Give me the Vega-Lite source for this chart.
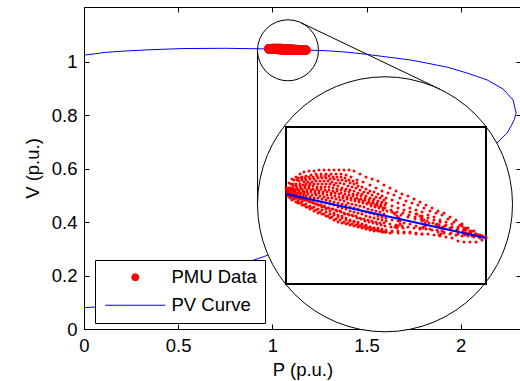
{
"$schema":"https://vega.github.io/schema/vega-lite/v6.json",
"width":437,"height":322,
"autosize":"none",
"padding":{"left":84,"top":7,"right":0,"bottom":52},
"background":"white",
"config":{
"font":"Liberation Sans",
"view":{"stroke":null},
"axis":{"domainColor":"black","domainWidth":1,"tickColor":"black","tickWidth":1,"tickSize":-5,"labelColor":"black","titleColor":"black","labelFont":"Liberation Sans","titleFont":"Liberation Sans","labelFontSize":18.5,"titleFontSize":18.5,"titleFontWeight":"normal","grid":false,"labelPadding":12,"labelFlush":false},
"axisX":{"titlePadding":6},
"axisY":{"titlePadding":9}
},
"datasets":{
"pv":[
{"i":0,"p":0,"v":1.025},{"i":1,"p":0.06,"v":1.03},{"i":2,"p":0.11,"v":1.035},{"i":3,"p":0.21,"v":1.04},{"i":4,"p":0.35,"v":1.045},{"i":5,"p":0.525,"v":1.0495},{"i":6,"p":0.75,"v":1.0505},{"i":7,"p":0.98,"v":1.048},{"i":8,"p":1.18,"v":1.0436},{"i":9,"p":1.269,"v":1.042},{"i":10,"p":1.38,"v":1.037},{"i":11,"p":1.487,"v":1.029},{"i":12,"p":1.609,"v":1.018},{"i":13,"p":1.731,"v":1.007},{"i":14,"p":1.821,"v":0.995},{"i":15,"p":1.927,"v":0.98},{"i":16,"p":2.033,"v":0.958},{"i":17,"p":2.14,"v":0.932},{"i":18,"p":2.225,"v":0.898},{"i":19,"p":2.278,"v":0.857},{"i":20,"p":2.294,"v":0.808},{"i":21,"p":2.285,"v":0.785},{"i":22,"p":2.27,"v":0.763},{"i":23,"p":2.246,"v":0.733},{"i":24,"p":2.198,"v":0.7},{"i":25,"p":2.1,"v":0.64},{"i":26,"p":1.9,"v":0.55},{"i":27,"p":1.6,"v":0.45},{"i":28,"p":1.3,"v":0.36},{"i":29,"p":1.0,"v":0.285},{"i":30,"p":0.96,"v":0.272},{"i":31,"p":0.7,"v":0.21},{"i":32,"p":0.4,"v":0.145},{"i":33,"p":0.2,"v":0.105},{"i":34,"p":0.06,"v":0.082},{"i":35,"p":0,"v":0.08}
],
"pmu":[
{"p":0.98,"v":1.0486},{"p":0.983,"v":1.0491},{"p":0.986,"v":1.0495},{"p":0.99,"v":1.0497},{"p":0.994,"v":1.05},{"p":0.998,"v":1.0502},{"p":1.003,"v":1.0503},{"p":1.008,"v":1.0503},{"p":1.013,"v":1.0504},{"p":1.018,"v":1.0504},{"p":1.023,"v":1.0504},{"p":1.028,"v":1.0504},{"p":1.033,"v":1.0504},{"p":1.038,"v":1.0504},{"p":1.043,"v":1.0504},{"p":1.048,"v":1.0503},{"p":1.054,"v":1.05},{"p":1.06,"v":1.0497},{"p":1.066,"v":1.0495},{"p":1.072,"v":1.0493},{"p":1.078,"v":1.0489},{"p":1.084,"v":1.0486},{"p":1.09,"v":1.0483},{"p":1.096,"v":1.048},{"p":1.102,"v":1.0478},{"p":1.108,"v":1.0475},{"p":1.114,"v":1.0472},{"p":1.12,"v":1.0469},{"p":1.126,"v":1.0466},{"p":1.132,"v":1.0463},{"p":1.138,"v":1.0461},{"p":1.144,"v":1.0457},{"p":1.15,"v":1.0454},{"p":1.156,"v":1.045},{"p":1.162,"v":1.0446},{"p":1.168,"v":1.0443},{"p":1.174,"v":1.0439},{"p":1.18,"v":1.0437},
{"p":0.982,"v":1.0486},{"p":0.985,"v":1.049},{"p":0.988,"v":1.0494},{"p":0.992,"v":1.0496},{"p":0.996,"v":1.0497},{"p":1,"v":1.0498},{"p":1.005,"v":1.0499},{"p":1.01,"v":1.05},{"p":1.015,"v":1.05},{"p":1.02,"v":1.05},{"p":1.025,"v":1.05},{"p":1.03,"v":1.05},{"p":1.035,"v":1.05},{"p":1.04,"v":1.0499},{"p":1.045,"v":1.0497},{"p":1.051,"v":1.0494},{"p":1.057,"v":1.0492},{"p":1.064,"v":1.0489},{"p":1.07,"v":1.0486},{"p":1.076,"v":1.0483},{"p":1.082,"v":1.0481},{"p":1.088,"v":1.0479},{"p":1.094,"v":1.0476},{"p":1.1,"v":1.0473},{"p":1.106,"v":1.0471},{"p":1.112,"v":1.0469},{"p":1.118,"v":1.0466},{"p":1.124,"v":1.0463},{"p":1.13,"v":1.0461},{"p":1.136,"v":1.0459},{"p":1.142,"v":1.0455},{"p":1.148,"v":1.0452},{"p":1.154,"v":1.0449},{"p":1.16,"v":1.0446},{"p":1.166,"v":1.0443},{"p":1.172,"v":1.0439},{"p":1.178,"v":1.0437},
{"p":0.981,"v":1.0484},{"p":0.984,"v":1.0486},{"p":0.987,"v":1.0488},{"p":0.99,"v":1.049},{"p":0.993,"v":1.0493},{"p":0.996,"v":1.0494},{"p":1,"v":1.0494},{"p":1.004,"v":1.0495},{"p":1.008,"v":1.0495},{"p":1.012,"v":1.0496},{"p":1.016,"v":1.0496},{"p":1.02,"v":1.0496},{"p":1.024,"v":1.0495},{"p":1.028,"v":1.0495},{"p":1.032,"v":1.0494},{"p":1.036,"v":1.0494},{"p":1.04,"v":1.0493},{"p":1.044,"v":1.0491},{"p":1.048,"v":1.049},{"p":1.052,"v":1.0488},{"p":1.056,"v":1.0487},{"p":1.06,"v":1.0485},{"p":1.064,"v":1.0483},{"p":1.068,"v":1.0482},{"p":1.072,"v":1.048},{"p":1.076,"v":1.0478},{"p":1.08,"v":1.0476},{"p":1.086,"v":1.0474},{"p":1.092,"v":1.0471},{"p":1.098,"v":1.0469},{"p":1.104,"v":1.0466},{"p":1.11,"v":1.0464},{"p":1.116,"v":1.0462},{"p":1.122,"v":1.0459},{"p":1.128,"v":1.0457},{"p":1.134,"v":1.0454},{"p":1.14,"v":1.0452},{"p":1.146,"v":1.045},{"p":1.152,"v":1.0447},{"p":1.158,"v":1.0445},{"p":1.164,"v":1.0443},{"p":1.17,"v":1.044},{"p":1.176,"v":1.0438},
{"p":0.982,"v":1.0483},{"p":0.985,"v":1.0484},{"p":0.988,"v":1.0485},{"p":0.991,"v":1.0486},{"p":0.994,"v":1.0488},{"p":0.997,"v":1.0489},{"p":1,"v":1.049},{"p":1.004,"v":1.049},{"p":1.008,"v":1.049},{"p":1.012,"v":1.049},{"p":1.016,"v":1.049},{"p":1.02,"v":1.049},{"p":1.024,"v":1.049},{"p":1.028,"v":1.0489},{"p":1.032,"v":1.0488},{"p":1.036,"v":1.0486},{"p":1.04,"v":1.0485},{"p":1.044,"v":1.0484},{"p":1.048,"v":1.0483},{"p":1.052,"v":1.0481},{"p":1.056,"v":1.048},{"p":1.06,"v":1.0478},{"p":1.064,"v":1.0476},{"p":1.068,"v":1.0475},{"p":1.072,"v":1.0473},{"p":1.076,"v":1.0472},{"p":1.08,"v":1.0471},{"p":1.086,"v":1.0468},{"p":1.092,"v":1.0466},{"p":1.098,"v":1.0464},{"p":1.104,"v":1.0462},{"p":1.11,"v":1.046},{"p":1.116,"v":1.0458},{"p":1.122,"v":1.0456},{"p":1.128,"v":1.0454},{"p":1.134,"v":1.0452},{"p":1.14,"v":1.0449},{"p":1.146,"v":1.0447},{"p":1.152,"v":1.0445},{"p":1.158,"v":1.0444},{"p":1.164,"v":1.0442},{"p":1.17,"v":1.044},{"p":1.176,"v":1.0438},
{"p":0.981,"v":1.0481},{"p":0.984,"v":1.0482},{"p":0.987,"v":1.0483},{"p":0.99,"v":1.0484},{"p":0.993,"v":1.0484},{"p":0.996,"v":1.0485},{"p":0.999,"v":1.0486},{"p":1.003,"v":1.0486},{"p":1.007,"v":1.0485},{"p":1.011,"v":1.0485},{"p":1.015,"v":1.0485},{"p":1.019,"v":1.0484},{"p":1.023,"v":1.0484},{"p":1.027,"v":1.0483},{"p":1.031,"v":1.0483},{"p":1.035,"v":1.0481},{"p":1.039,"v":1.048},{"p":1.043,"v":1.0479},{"p":1.047,"v":1.0478},{"p":1.051,"v":1.0476},{"p":1.055,"v":1.0475},{"p":1.059,"v":1.0474},{"p":1.063,"v":1.0472},{"p":1.067,"v":1.0471},{"p":1.071,"v":1.0469},{"p":1.075,"v":1.0468},{"p":1.079,"v":1.0466},{"p":1.085,"v":1.0464},{"p":1.091,"v":1.0462},{"p":1.097,"v":1.0461},{"p":1.103,"v":1.0459},{"p":1.109,"v":1.0457},{"p":1.115,"v":1.0455},{"p":1.121,"v":1.0453},{"p":1.127,"v":1.0451},{"p":1.133,"v":1.0449},{"p":1.139,"v":1.0448},{"p":1.145,"v":1.0446},{"p":1.151,"v":1.0444},{"p":1.157,"v":1.0443},{"p":1.163,"v":1.0441},{"p":1.169,"v":1.044},{"p":1.175,"v":1.0438},
{"p":0.983,"v":1.048},{"p":0.986,"v":1.0481},{"p":0.989,"v":1.0481},{"p":0.992,"v":1.0481},{"p":0.995,"v":1.0481},{"p":0.998,"v":1.0482},{"p":1.001,"v":1.0482},{"p":1.005,"v":1.0482},{"p":1.009,"v":1.0481},{"p":1.013,"v":1.0481},{"p":1.017,"v":1.048},{"p":1.021,"v":1.0479},{"p":1.025,"v":1.0479},{"p":1.029,"v":1.0478},{"p":1.033,"v":1.0477},{"p":1.037,"v":1.0476},{"p":1.041,"v":1.0475},{"p":1.045,"v":1.0474},{"p":1.049,"v":1.0473},{"p":1.053,"v":1.0472},{"p":1.057,"v":1.0471},{"p":1.061,"v":1.047},{"p":1.065,"v":1.0468},{"p":1.069,"v":1.0467},{"p":1.073,"v":1.0466},{"p":1.077,"v":1.0464},{"p":1.081,"v":1.0463},{"p":1.088,"v":1.0461},{"p":1.095,"v":1.0459},{"p":1.102,"v":1.0457},{"p":1.109,"v":1.0455},{"p":1.116,"v":1.0453},{"p":1.123,"v":1.0451},{"p":1.13,"v":1.0449},{"p":1.137,"v":1.0447},{"p":1.144,"v":1.0446},{"p":1.151,"v":1.0444},{"p":1.158,"v":1.0442},{"p":1.165,"v":1.0441},{"p":1.172,"v":1.0439},
{"p":0.982,"v":1.0479},{"p":0.985,"v":1.0479},{"p":0.988,"v":1.0479},{"p":0.991,"v":1.0478},{"p":0.994,"v":1.0478},{"p":0.997,"v":1.0478},{"p":1,"v":1.0478},{"p":1.004,"v":1.0477},{"p":1.008,"v":1.0476},{"p":1.012,"v":1.0476},{"p":1.016,"v":1.0475},{"p":1.02,"v":1.0474},{"p":1.024,"v":1.0473},{"p":1.028,"v":1.0472},{"p":1.032,"v":1.0471},{"p":1.036,"v":1.047},{"p":1.04,"v":1.0469},{"p":1.044,"v":1.0467},{"p":1.048,"v":1.0466},{"p":1.052,"v":1.0465},{"p":1.056,"v":1.0463},{"p":1.06,"v":1.0462},{"p":1.064,"v":1.0461},{"p":1.068,"v":1.046},{"p":1.072,"v":1.0458},{"p":1.076,"v":1.0457},{"p":1.08,"v":1.0456},{"p":1.086,"v":1.0454},{"p":1.092,"v":1.0453},{"p":1.098,"v":1.0451},{"p":1.104,"v":1.045},{"p":1.11,"v":1.0448},{"p":1.117,"v":1.0447},{"p":1.124,"v":1.0445},{"p":1.131,"v":1.0444},{"p":1.138,"v":1.0442},{"p":1.145,"v":1.0441},{"p":1.152,"v":1.044},{"p":1.159,"v":1.0439},{"p":1.166,"v":1.0438},{"p":1.173,"v":1.0437},
{"p":0.982,"v":1.0478},{"p":0.986,"v":1.0477},{"p":0.99,"v":1.0476},{"p":0.994,"v":1.0475},{"p":0.998,"v":1.0474},{"p":1.002,"v":1.0473},{"p":1.006,"v":1.0472},{"p":1.01,"v":1.047},{"p":1.014,"v":1.0469},{"p":1.018,"v":1.0468},{"p":1.022,"v":1.0466},{"p":1.026,"v":1.0465},{"p":1.03,"v":1.0464},{"p":1.034,"v":1.0463},{"p":1.038,"v":1.0461},{"p":1.042,"v":1.046},{"p":1.046,"v":1.0459},{"p":1.05,"v":1.0458},{"p":1.054,"v":1.0456},{"p":1.058,"v":1.0455},{"p":1.062,"v":1.0454},{"p":1.066,"v":1.0453},{"p":1.07,"v":1.0452},{"p":1.074,"v":1.0451},{"p":1.078,"v":1.0451},{"p":1.084,"v":1.045},{"p":1.09,"v":1.0449},{"p":1.096,"v":1.0448},{"p":1.102,"v":1.0447},{"p":1.108,"v":1.0446},{"p":1.114,"v":1.0446},{"p":1.12,"v":1.0445},{"p":1.126,"v":1.0444},{"p":1.132,"v":1.0442},{"p":1.138,"v":1.0441},{"p":1.144,"v":1.044},{"p":1.15,"v":1.0439},{"p":1.156,"v":1.0438},{"p":1.162,"v":1.0438},{"p":1.168,"v":1.0437},{"p":1.174,"v":1.0436},
{"p":0.984,"v":1.0478},{"p":0.988,"v":1.0477},{"p":0.992,"v":1.0476},{"p":0.996,"v":1.0475},{"p":1,"v":1.0474},{"p":1.004,"v":1.0472},{"p":1.008,"v":1.0471},{"p":1.012,"v":1.0469},{"p":1.016,"v":1.0467},{"p":1.02,"v":1.0465},{"p":1.024,"v":1.0463},{"p":1.028,"v":1.0461},{"p":1.032,"v":1.0459},{"p":1.036,"v":1.0458},{"p":1.04,"v":1.0456},{"p":1.044,"v":1.0454},{"p":1.048,"v":1.0453},{"p":1.052,"v":1.0452},{"p":1.056,"v":1.045},{"p":1.06,"v":1.0449},{"p":1.064,"v":1.0447},{"p":1.068,"v":1.0446},{"p":1.072,"v":1.0444},{"p":1.076,"v":1.0443},{"p":1.08,"v":1.0442},{"p":1.086,"v":1.0442},{"p":1.092,"v":1.0441},{"p":1.098,"v":1.0441},{"p":1.104,"v":1.0441},{"p":1.11,"v":1.044},{"p":1.116,"v":1.044},{"p":1.122,"v":1.044},{"p":1.128,"v":1.0439},{"p":1.134,"v":1.0438},{"p":1.14,"v":1.0437},{"p":1.146,"v":1.0436},{"p":1.152,"v":1.0433},{"p":1.158,"v":1.0432},{"p":1.164,"v":1.0432},{"p":1.17,"v":1.0432},{"p":1.176,"v":1.0434},{"p":1.18,"v":1.0436},
{"p":0.983,"v":1.0478},{"p":0.987,"v":1.0477},{"p":0.991,"v":1.0476},{"p":0.995,"v":1.0475},{"p":0.999,"v":1.0474},{"p":1.003,"v":1.0473},{"p":1.007,"v":1.0471},{"p":1.011,"v":1.047},{"p":1.015,"v":1.0469},{"p":1.019,"v":1.0467},{"p":1.023,"v":1.0466},{"p":1.027,"v":1.0465},{"p":1.031,"v":1.0463},{"p":1.035,"v":1.0462},{"p":1.039,"v":1.046},{"p":1.043,"v":1.0459},{"p":1.047,"v":1.0458},{"p":1.051,"v":1.0456},{"p":1.055,"v":1.0455},{"p":1.059,"v":1.0453},{"p":1.063,"v":1.0452},{"p":1.067,"v":1.0451},{"p":1.071,"v":1.045},{"p":1.075,"v":1.0449},{"p":1.079,"v":1.0448},{"p":1.085,"v":1.0447},{"p":1.091,"v":1.0446},{"p":1.097,"v":1.0446},
{"p":1.086,"v":1.0462},{"p":1.089,"v":1.046},{"p":1.091,"v":1.0458},{"p":1.093,"v":1.0456},{"p":1.094,"v":1.0453},{"p":1.094,"v":1.045},{"p":1.092,"v":1.0448},{"p":1.089,"v":1.0447},
{"p":1.111,"v":1.046},{"p":1.114,"v":1.0458},{"p":1.116,"v":1.0456},{"p":1.118,"v":1.0454},{"p":1.119,"v":1.0451},{"p":1.119,"v":1.0448},{"p":1.117,"v":1.0446},{"p":1.114,"v":1.0445},
{"p":1.131,"v":1.045},{"p":1.133,"v":1.0448},{"p":1.135,"v":1.0446},{"p":1.136,"v":1.0443},{"p":1.135,"v":1.044},{"p":1.133,"v":1.0439},
{"p":1.156,"v":1.0448},{"p":1.158,"v":1.0446},{"p":1.16,"v":1.0444},{"p":1.16,"v":1.0441},{"p":1.158,"v":1.044},
{"p":0.982,"v":1.0484},{"p":0.986,"v":1.0486},{"p":0.99,"v":1.0488},{"p":0.994,"v":1.049},{"p":0.998,"v":1.0492},{"p":1.002,"v":1.0492},{"p":1.006,"v":1.0492},{"p":1.01,"v":1.0493},{"p":1.014,"v":1.0493},{"p":1.018,"v":1.0493},{"p":1.022,"v":1.0493},{"p":1.026,"v":1.0492},{"p":1.03,"v":1.0491},{"p":1.034,"v":1.0491},{"p":1.038,"v":1.049},{"p":1.042,"v":1.0488},{"p":1.046,"v":1.0487},{"p":1.05,"v":1.0486},{"p":1.054,"v":1.0484},{"p":1.058,"v":1.0482},{"p":1.062,"v":1.0481},{"p":1.066,"v":1.0479},{"p":1.07,"v":1.0477},{"p":1.074,"v":1.0476},{"p":1.078,"v":1.0474},
{"p":0.985,"v":1.0481},{"p":0.989,"v":1.0482},{"p":0.993,"v":1.0483},{"p":0.997,"v":1.0483},{"p":1.001,"v":1.0484},{"p":1.005,"v":1.0484},{"p":1.009,"v":1.0483},{"p":1.013,"v":1.0483},{"p":1.017,"v":1.0482},{"p":1.021,"v":1.0482},{"p":1.025,"v":1.0481},{"p":1.029,"v":1.0481},{"p":1.033,"v":1.048},{"p":1.037,"v":1.0478},{"p":1.041,"v":1.0477},{"p":1.045,"v":1.0476},{"p":1.049,"v":1.0475},{"p":1.053,"v":1.0474},{"p":1.057,"v":1.0473},{"p":1.061,"v":1.0471},{"p":1.065,"v":1.047},{"p":1.069,"v":1.0469},{"p":1.073,"v":1.0467},{"p":1.077,"v":1.0466},
{"p":0.984,"v":1.0479},{"p":0.988,"v":1.0478},{"p":0.992,"v":1.0477},{"p":0.996,"v":1.0476},{"p":1,"v":1.0476},{"p":1.004,"v":1.0475},{"p":1.008,"v":1.0474},{"p":1.012,"v":1.0473},{"p":1.016,"v":1.0472},{"p":1.02,"v":1.0471},{"p":1.024,"v":1.047},{"p":1.028,"v":1.0469},{"p":1.032,"v":1.0467},{"p":1.036,"v":1.0466},{"p":1.04,"v":1.0465},{"p":1.044,"v":1.0463},{"p":1.048,"v":1.0462},{"p":1.052,"v":1.0461},{"p":1.056,"v":1.046},{"p":1.06,"v":1.0458},{"p":1.064,"v":1.0457},{"p":1.068,"v":1.0456},{"p":1.072,"v":1.0455},{"p":1.076,"v":1.0454},{"p":1.08,"v":1.0453},
{"p":0.983,"v":1.0486},{"p":0.987,"v":1.049},{"p":0.991,"v":1.0494},{"p":0.995,"v":1.0496},{"p":0.999,"v":1.0496},{"p":1.003,"v":1.0497},{"p":1.007,"v":1.0497},{"p":1.011,"v":1.0498},{"p":1.015,"v":1.0498},{"p":1.019,"v":1.0498},{"p":1.023,"v":1.0498},{"p":1.027,"v":1.0497},{"p":1.031,"v":1.0497},{"p":1.035,"v":1.0497},{"p":1.039,"v":1.0496},{"p":1.043,"v":1.0494},{"p":1.047,"v":1.0493},{"p":1.051,"v":1.0491},
{"p":0.983,"v":1.0482},{"p":0.987,"v":1.0484},{"p":0.991,"v":1.0485},{"p":0.995,"v":1.0486},{"p":0.999,"v":1.0488},{"p":1.003,"v":1.0488},{"p":1.007,"v":1.0488},{"p":1.011,"v":1.0487},{"p":1.015,"v":1.0487},{"p":1.019,"v":1.0487},{"p":1.023,"v":1.0487},{"p":1.027,"v":1.0486},{"p":1.031,"v":1.0485},{"p":1.035,"v":1.0484},{"p":1.039,"v":1.0483},{"p":1.043,"v":1.0482},{"p":1.047,"v":1.048},{"p":1.051,"v":1.0479},{"p":1.055,"v":1.0478},{"p":1.059,"v":1.0476},{"p":1.063,"v":1.0474},{"p":1.067,"v":1.0473},{"p":1.071,"v":1.0471},{"p":1.075,"v":1.047},{"p":1.079,"v":1.0469},
{"p":0.982,"v":1.048},{"p":0.986,"v":1.048},{"p":0.99,"v":1.048},{"p":0.994,"v":1.048},{"p":0.998,"v":1.048},{"p":1.002,"v":1.048},{"p":1.006,"v":1.0479},{"p":1.01,"v":1.0479},{"p":1.014,"v":1.0478},{"p":1.018,"v":1.0477},{"p":1.022,"v":1.0476},{"p":1.026,"v":1.0476},{"p":1.03,"v":1.0475},{"p":1.034,"v":1.0474},{"p":1.038,"v":1.0473},{"p":1.042,"v":1.0471},{"p":1.046,"v":1.047},{"p":1.05,"v":1.0469},{"p":1.054,"v":1.0468},{"p":1.058,"v":1.0467},{"p":1.062,"v":1.0465},{"p":1.066,"v":1.0464},{"p":1.07,"v":1.0463},{"p":1.074,"v":1.0462},{"p":1.078,"v":1.046},
{"p":0.984,"v":1.0476},{"p":0.988,"v":1.0475},{"p":0.992,"v":1.0473},{"p":0.996,"v":1.0472},{"p":1.0,"v":1.047},{"p":1.004,"v":1.0468},{"p":1.008,"v":1.0467},{"p":1.012,"v":1.0465},{"p":1.016,"v":1.0464},{"p":1.02,"v":1.0462},{"p":1.024,"v":1.046},{"p":1.028,"v":1.0459},{"p":1.032,"v":1.0457},{"p":1.036,"v":1.0456},{"p":1.04,"v":1.0454},{"p":1.044,"v":1.0453},{"p":1.048,"v":1.0452},{"p":1.052,"v":1.045},{"p":1.056,"v":1.0449},{"p":1.06,"v":1.0448},{"p":1.064,"v":1.0447},{"p":1.068,"v":1.0446},{"p":1.072,"v":1.0446},{"p":1.076,"v":1.0445},{"p":1.08,"v":1.0444},{"p":1.086,"v":1.0443},{"p":1.092,"v":1.0443},{"p":1.098,"v":1.0442},{"p":1.104,"v":1.0442},{"p":1.11,"v":1.0441},{"p":1.116,"v":1.044},
{"p":0.986,"v":1.0474},{"p":0.99,"v":1.0472},{"p":0.994,"v":1.0471},{"p":0.998,"v":1.0469},{"p":1.002,"v":1.0467},{"p":1.006,"v":1.0466},{"p":1.01,"v":1.0464},{"p":1.014,"v":1.0462},{"p":1.018,"v":1.046},{"p":1.022,"v":1.0458},{"p":1.026,"v":1.0457},{"p":1.03,"v":1.0455},{"p":1.034,"v":1.0454},{"p":1.038,"v":1.0452},{"p":1.042,"v":1.0451},{"p":1.046,"v":1.045},{"p":1.05,"v":1.0449},{"p":1.054,"v":1.0448},{"p":1.058,"v":1.0447},{"p":1.062,"v":1.0446},{"p":1.066,"v":1.0445},{"p":1.07,"v":1.0444},{"p":1.074,"v":1.0443},{"p":1.078,"v":1.0442},
{"p":0.992,"v":1.0471},{"p":0.996,"v":1.0469},{"p":1.0,"v":1.0467},{"p":1.004,"v":1.0465},{"p":1.008,"v":1.0463},{"p":1.012,"v":1.0461},{"p":1.016,"v":1.046},{"p":1.02,"v":1.0458},{"p":1.024,"v":1.0456},{"p":1.028,"v":1.0454},{"p":1.032,"v":1.0452},{"p":1.036,"v":1.0451},{"p":1.04,"v":1.045},{"p":1.044,"v":1.0449},{"p":1.048,"v":1.0448},{"p":1.052,"v":1.0447},{"p":1.056,"v":1.0446},{"p":1.06,"v":1.0445},{"p":1.064,"v":1.0444},{"p":1.068,"v":1.0443},{"p":1.072,"v":1.0443},{"p":1.076,"v":1.0442},{"p":1.08,"v":1.0442},{"p":1.084,"v":1.0441}
]
},
"layer":[
{
"layer":[
{
"data":{"name":"pv"},
"mark":{"type":"line","strokeWidth":1},
"encoding":{
"x":{"field":"p","type":"quantitative","scale":{"domain":[0,2.32],"nice":false,"zero":false},"axis":{"orient":"bottom","values":[0,0.5,1,1.5,2],"format":"~g","title":"P (p.u.)"}},
"y":{"field":"v","type":"quantitative","scale":{"domain":[0,1.205],"nice":false,"zero":false},"axis":{"orient":"left","values":[0,0.2,0.4,0.6,0.8,1],"format":"~g","title":"V (p.u.)"}},
"order":{"field":"i"},
"color":{"datum":"PV Curve","type":"nominal","scale":{"domain":["PMU Data","PV Curve"],"range":["#ff0000","#0000ff"]},
"legend":{"orient":"none","legendX":11,"legendY":253,"title":null,"fillColor":"white","strokeColor":"black","padding":8,"labelFontSize":18.5,"labelFont":"Liberation Sans","labelColor":"black","labelLimit":0,"symbolSize":49,"symbolOffset":23,"labelOffset":27,"rowPadding":9,
"encode":{"symbols":{"update":{
"shape":{"signal":"datum.value === 'PV Curve' ? 'stroke' : 'circle'"},
"size":{"signal":"datum.value === 'PV Curve' ? 3600 : 49"},
"fill":{"signal":"datum.value === 'PV Curve' ? 'transparent' : '#ff0000'"},
"stroke":{"signal":"datum.value === 'PV Curve' ? '#0000ff' : 'transparent'"},
"strokeWidth":{"value":1},
"opacity":{"value":1}}}}}}
}
},
{
"data":{"name":"pmu"},
"mark":{"type":"point","filled":true,"size":81,"opacity":1},
"encoding":{
"x":{"field":"p","type":"quantitative","scale":{"domain":[0,2.32],"nice":false,"zero":false},"axis":{"orient":"top","values":[0,0.5,1,1.5,2],"labels":false,"title":null}},
"y":{"field":"v","type":"quantitative","scale":{"domain":[0,1.205],"nice":false,"zero":false},"axis":{"orient":"right","values":[0,0.2,0.4,0.6,0.8,1],"labels":false,"title":null}},
"color":{"datum":"PMU Data","type":"nominal"}
}
},
{
"data":{"values":[{"p":1.083,"v":1.043}]},
"mark":{"type":"point","shape":"circle","size":3721,"filled":false,"color":"black","strokeWidth":1,"opacity":1},
"encoding":{
"x":{"field":"p","type":"quantitative","axis":null},
"y":{"field":"v","type":"quantitative","axis":null}
}
},
{
"data":{"values":[{"p":0.921,"v":1.043,"p2":0.921,"v2":0.4667},{"p":1.153,"v":1.146,"p2":1.891,"v2":0.897}]},
"mark":{"type":"rule","color":"black","strokeWidth":1},
"encoding":{
"x":{"field":"p","type":"quantitative","axis":null},
"y":{"field":"v","type":"quantitative","axis":null},
"x2":{"field":"p2"},
"y2":{"field":"v2"}
}
},
{
"data":{"values":[{"p":1.598,"v":0.4667}]},
"mark":{"type":"point","shape":"circle","size":65025,"filled":true,"fill":"white","stroke":"black","strokeWidth":1,"opacity":1,"fillOpacity":1},
"encoding":{
"x":{"field":"p","type":"quantitative","axis":null},
"y":{"field":"v","type":"quantitative","axis":null}
}
}
],
"resolve":{"axis":{"x":"independent","y":"independent"}}
},
{
"layer":[
{
"data":{"values":[{"p1":0.98,"p2":1.18,"v1":1.039,"v2":1.0547}]},
"mark":{"type":"rect","fill":"white","stroke":"black","strokeWidth":2},
"encoding":{
"x":{"field":"p1","type":"quantitative","scale":{"domain":[0.98,1.18],"range":[202,402],"nice":false,"zero":false},"axis":null},
"x2":{"field":"p2"},
"y":{"field":"v1","type":"quantitative","scale":{"domain":[1.039,1.0547],"range":[277,120],"nice":false,"zero":false},"axis":null},
"y2":{"field":"v2"}
}
},
{
"data":{"name":"pmu"},
"mark":{"type":"point","filled":true,"size":9,"color":"#ff0000","opacity":1},
"encoding":{
"x":{"field":"p","type":"quantitative","axis":null},
"y":{"field":"v","type":"quantitative","axis":null}
}
},
{
"data":{"name":"pv"},
"transform":[{"filter":"datum.v > 1 && datum.p >= 0.98 && datum.p <= 1.18"}],
"mark":{"type":"line","color":"#0000ff","strokeWidth":2},
"encoding":{
"x":{"field":"p","type":"quantitative","axis":null},
"y":{"field":"v","type":"quantitative","axis":null},
"order":{"field":"i"}
}
}
]
}
],
"resolve":{"scale":{"x":"independent","y":"independent"},"axis":{"x":"independent","y":"independent"}}
}
